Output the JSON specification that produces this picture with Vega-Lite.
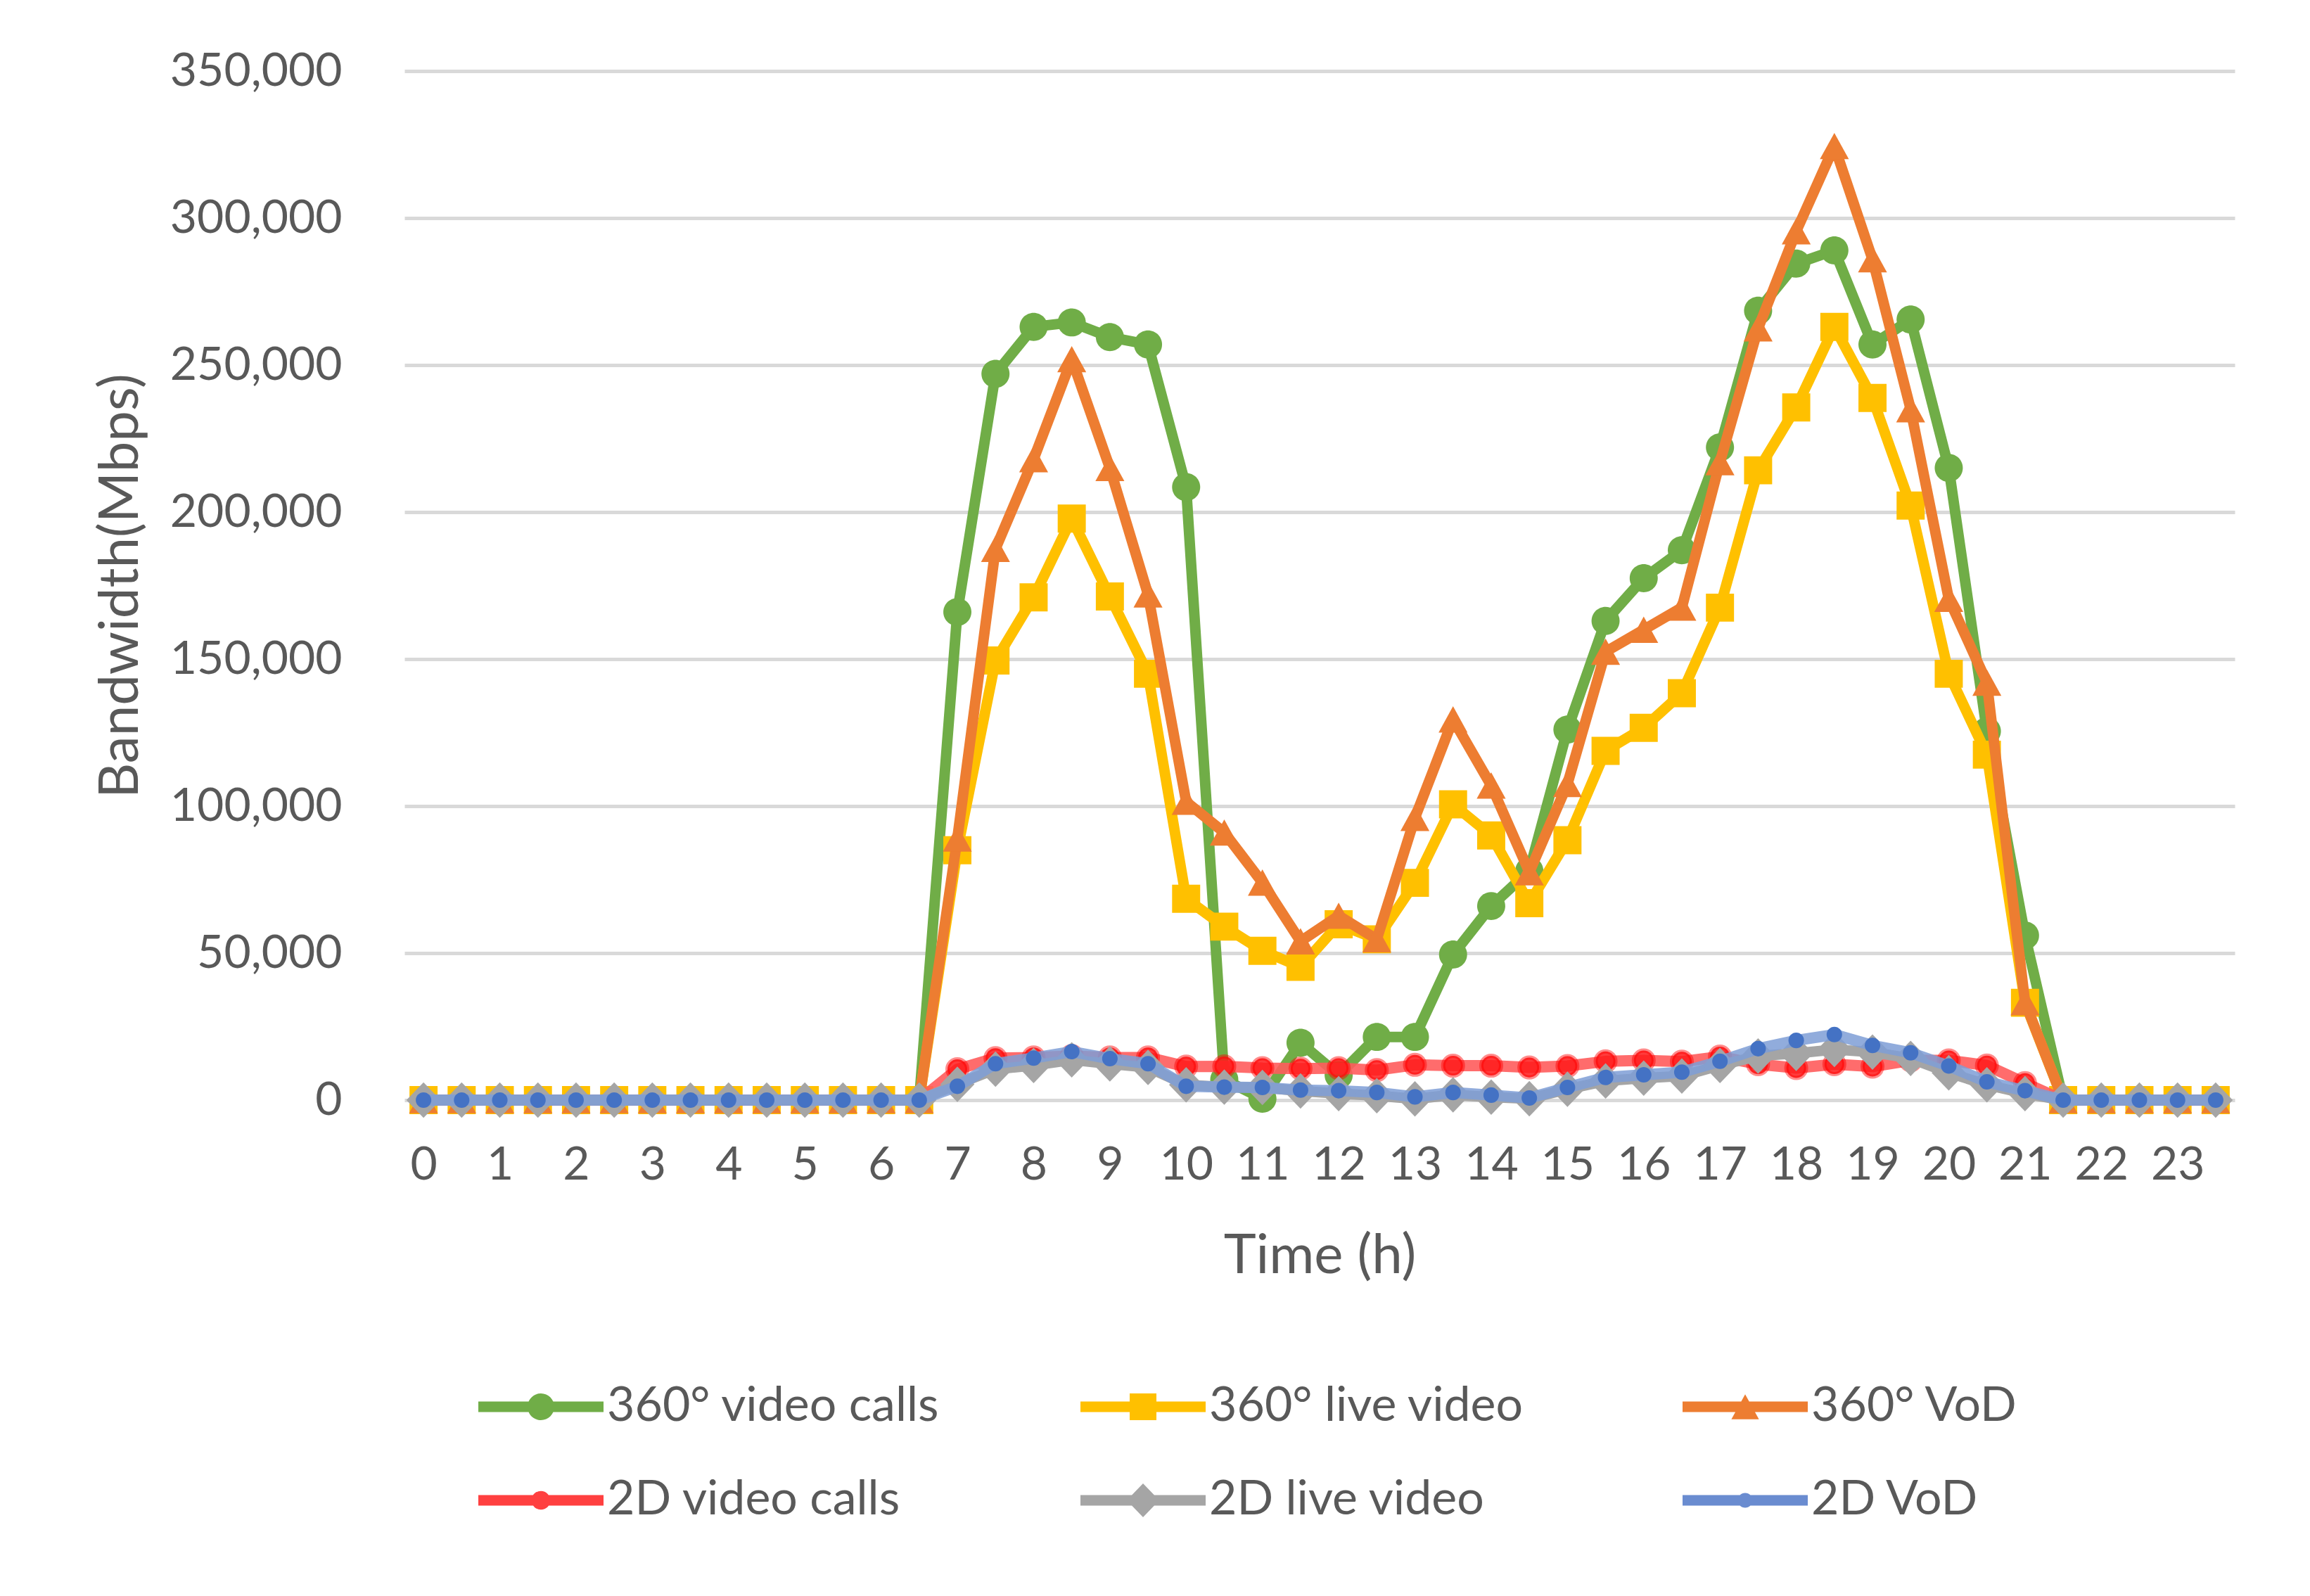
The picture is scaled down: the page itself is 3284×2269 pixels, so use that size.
{
  "$schema": "https://vega.github.io/schema/vega-lite/v6.json",
  "autosize": {"type": "none"},
  "padding": {"left": 575, "top": 101, "right": 107, "bottom": 705},
  "width": 2602,
  "height": 1463,
  "background": "white",
  "config": {
    "font": "Lato",
    "view": {"stroke": null},
    "axis": {"labelColor": "#595959", "titleColor": "#595959", "titleFontWeight": "normal", "labelFont": "Lato", "titleFont": "Lato", "labelLimit": 1000},
    "legend": {"labelColor": "#595959", "labelFont": "Lato", "labelLimit": 1000}
  },
  "data": {"values": [
    {"h":0,"s":"360° video calls","v":0},{"h":0.5,"s":"360° video calls","v":0},{"h":1,"s":"360° video calls","v":0},{"h":1.5,"s":"360° video calls","v":0},{"h":2,"s":"360° video calls","v":0},{"h":2.5,"s":"360° video calls","v":0},{"h":3,"s":"360° video calls","v":0},{"h":3.5,"s":"360° video calls","v":0},{"h":4,"s":"360° video calls","v":0},{"h":4.5,"s":"360° video calls","v":0},{"h":5,"s":"360° video calls","v":0},{"h":5.5,"s":"360° video calls","v":0},{"h":6,"s":"360° video calls","v":0},{"h":6.5,"s":"360° video calls","v":0},
    {"h":7,"s":"360° video calls","v":166000},{"h":7.5,"s":"360° video calls","v":247000},{"h":8,"s":"360° video calls","v":263000},{"h":8.5,"s":"360° video calls","v":264500},{"h":9,"s":"360° video calls","v":259500},{"h":9.5,"s":"360° video calls","v":257000},{"h":10,"s":"360° video calls","v":208500},{"h":10.5,"s":"360° video calls","v":7000},{"h":11,"s":"360° video calls","v":500},{"h":11.5,"s":"360° video calls","v":19500},{"h":12,"s":"360° video calls","v":8500},{"h":12.5,"s":"360° video calls","v":21500},{"h":13,"s":"360° video calls","v":21500},{"h":13.5,"s":"360° video calls","v":49500},{"h":14,"s":"360° video calls","v":66000},{"h":14.5,"s":"360° video calls","v":78000},{"h":15,"s":"360° video calls","v":126000},{"h":15.5,"s":"360° video calls","v":163000},{"h":16,"s":"360° video calls","v":177500},{"h":16.5,"s":"360° video calls","v":187000},{"h":17,"s":"360° video calls","v":222000},{"h":17.5,"s":"360° video calls","v":268500},{"h":18,"s":"360° video calls","v":284500},{"h":18.5,"s":"360° video calls","v":289000},{"h":19,"s":"360° video calls","v":257000},{"h":19.5,"s":"360° video calls","v":265500},{"h":20,"s":"360° video calls","v":215000},{"h":20.5,"s":"360° video calls","v":125500},{"h":21,"s":"360° video calls","v":56000},
    {"h":21.5,"s":"360° video calls","v":0},{"h":22,"s":"360° video calls","v":0},{"h":22.5,"s":"360° video calls","v":0},{"h":23,"s":"360° video calls","v":0},{"h":23.5,"s":"360° video calls","v":0},

    {"h":0,"s":"360° live video","v":0},{"h":0.5,"s":"360° live video","v":0},{"h":1,"s":"360° live video","v":0},{"h":1.5,"s":"360° live video","v":0},{"h":2,"s":"360° live video","v":0},{"h":2.5,"s":"360° live video","v":0},{"h":3,"s":"360° live video","v":0},{"h":3.5,"s":"360° live video","v":0},{"h":4,"s":"360° live video","v":0},{"h":4.5,"s":"360° live video","v":0},{"h":5,"s":"360° live video","v":0},{"h":5.5,"s":"360° live video","v":0},{"h":6,"s":"360° live video","v":0},{"h":6.5,"s":"360° live video","v":0},
    {"h":7,"s":"360° live video","v":85000},{"h":7.5,"s":"360° live video","v":149500},{"h":8,"s":"360° live video","v":171000},{"h":8.5,"s":"360° live video","v":197800},{"h":9,"s":"360° live video","v":171300},{"h":9.5,"s":"360° live video","v":145000},{"h":10,"s":"360° live video","v":68500},{"h":10.5,"s":"360° live video","v":59000},{"h":11,"s":"360° live video","v":50800},{"h":11.5,"s":"360° live video","v":45300},{"h":12,"s":"360° live video","v":59800},{"h":12.5,"s":"360° live video","v":54700},{"h":13,"s":"360° live video","v":73900},{"h":13.5,"s":"360° live video","v":100600},{"h":14,"s":"360° live video","v":90000},{"h":14.5,"s":"360° live video","v":67000},{"h":15,"s":"360° live video","v":88400},{"h":15.5,"s":"360° live video","v":118800},{"h":16,"s":"360° live video","v":126600},{"h":16.5,"s":"360° live video","v":138400},{"h":17,"s":"360° live video","v":167500},{"h":17.5,"s":"360° live video","v":214200},{"h":18,"s":"360° live video","v":235600},{"h":18.5,"s":"360° live video","v":263000},{"h":19,"s":"360° live video","v":238800},{"h":19.5,"s":"360° live video","v":202200},{"h":20,"s":"360° live video","v":145000},{"h":20.5,"s":"360° live video","v":117500},{"h":21,"s":"360° live video","v":33100},
    {"h":21.5,"s":"360° live video","v":0},{"h":22,"s":"360° live video","v":0},{"h":22.5,"s":"360° live video","v":0},{"h":23,"s":"360° live video","v":0},{"h":23.5,"s":"360° live video","v":0},

    {"h":0,"s":"360° VoD","v":0},{"h":0.5,"s":"360° VoD","v":0},{"h":1,"s":"360° VoD","v":0},{"h":1.5,"s":"360° VoD","v":0},{"h":2,"s":"360° VoD","v":0},{"h":2.5,"s":"360° VoD","v":0},{"h":3,"s":"360° VoD","v":0},{"h":3.5,"s":"360° VoD","v":0},{"h":4,"s":"360° VoD","v":0},{"h":4.5,"s":"360° VoD","v":0},{"h":5,"s":"360° VoD","v":0},{"h":5.5,"s":"360° VoD","v":0},{"h":6,"s":"360° VoD","v":0},{"h":6.5,"s":"360° VoD","v":0},
    {"h":7,"s":"360° VoD","v":89000},{"h":7.5,"s":"360° VoD","v":187500},{"h":8,"s":"360° VoD","v":218000},{"h":8.5,"s":"360° VoD","v":252000},{"h":9,"s":"360° VoD","v":215000},{"h":9.5,"s":"360° VoD","v":172000},{"h":10,"s":"360° VoD","v":101500},{"h":10.5,"s":"360° VoD","v":91000},{"h":11,"s":"360° VoD","v":74000},{"h":11.5,"s":"360° VoD","v":54000},{"h":12,"s":"360° VoD","v":62700},{"h":12.5,"s":"360° VoD","v":54700},{"h":13,"s":"360° VoD","v":96000},{"h":13.5,"s":"360° VoD","v":129500},{"h":14,"s":"360° VoD","v":107000},{"h":14.5,"s":"360° VoD","v":77500},{"h":15,"s":"360° VoD","v":107500},{"h":15.5,"s":"360° VoD","v":152500},{"h":16,"s":"360° VoD","v":160000},{"h":16.5,"s":"360° VoD","v":167500},{"h":17,"s":"360° VoD","v":217000},{"h":17.5,"s":"360° VoD","v":262500},{"h":18,"s":"360° VoD","v":295500},{"h":18.5,"s":"360° VoD","v":324500},{"h":19,"s":"360° VoD","v":286000},{"h":19.5,"s":"360° VoD","v":235000},{"h":20,"s":"360° VoD","v":170500},{"h":20.5,"s":"360° VoD","v":142000},{"h":21,"s":"360° VoD","v":33300},
    {"h":21.5,"s":"360° VoD","v":0},{"h":22,"s":"360° VoD","v":0},{"h":22.5,"s":"360° VoD","v":0},{"h":23,"s":"360° VoD","v":0},{"h":23.5,"s":"360° VoD","v":0},

    {"h":0,"s":"2D video calls","v":0},{"h":0.5,"s":"2D video calls","v":0},{"h":1,"s":"2D video calls","v":0},{"h":1.5,"s":"2D video calls","v":0},{"h":2,"s":"2D video calls","v":0},{"h":2.5,"s":"2D video calls","v":0},{"h":3,"s":"2D video calls","v":0},{"h":3.5,"s":"2D video calls","v":0},{"h":4,"s":"2D video calls","v":0},{"h":4.5,"s":"2D video calls","v":0},{"h":5,"s":"2D video calls","v":0},{"h":5.5,"s":"2D video calls","v":0},{"h":6,"s":"2D video calls","v":0},{"h":6.5,"s":"2D video calls","v":0},
    {"h":7,"s":"2D video calls","v":10500},{"h":7.5,"s":"2D video calls","v":14300},{"h":8,"s":"2D video calls","v":14500},{"h":8.5,"s":"2D video calls","v":15000},{"h":9,"s":"2D video calls","v":14500},{"h":9.5,"s":"2D video calls","v":14500},{"h":10,"s":"2D video calls","v":11400},{"h":10.5,"s":"2D video calls","v":11500},{"h":11,"s":"2D video calls","v":10900},{"h":11.5,"s":"2D video calls","v":10700},{"h":12,"s":"2D video calls","v":10900},{"h":12.5,"s":"2D video calls","v":10200},{"h":13,"s":"2D video calls","v":12000},{"h":13.5,"s":"2D video calls","v":11700},{"h":14,"s":"2D video calls","v":11700},{"h":14.5,"s":"2D video calls","v":11100},{"h":15,"s":"2D video calls","v":11600},{"h":15.5,"s":"2D video calls","v":13200},{"h":16,"s":"2D video calls","v":13500},{"h":16.5,"s":"2D video calls","v":13100},{"h":17,"s":"2D video calls","v":14800},{"h":17.5,"s":"2D video calls","v":12200},{"h":18,"s":"2D video calls","v":10900},{"h":18.5,"s":"2D video calls","v":12200},{"h":19,"s":"2D video calls","v":11400},{"h":19.5,"s":"2D video calls","v":13500},{"h":20,"s":"2D video calls","v":13500},{"h":20.5,"s":"2D video calls","v":11800},{"h":21,"s":"2D video calls","v":5800},
    {"h":21.5,"s":"2D video calls","v":0},{"h":22,"s":"2D video calls","v":0},{"h":22.5,"s":"2D video calls","v":0},{"h":23,"s":"2D video calls","v":0},{"h":23.5,"s":"2D video calls","v":0},

    {"h":0,"s":"2D live video","v":0},{"h":0.5,"s":"2D live video","v":0},{"h":1,"s":"2D live video","v":0},{"h":1.5,"s":"2D live video","v":0},{"h":2,"s":"2D live video","v":0},{"h":2.5,"s":"2D live video","v":0},{"h":3,"s":"2D live video","v":0},{"h":3.5,"s":"2D live video","v":0},{"h":4,"s":"2D live video","v":0},{"h":4.5,"s":"2D live video","v":0},{"h":5,"s":"2D live video","v":0},{"h":5.5,"s":"2D live video","v":0},{"h":6,"s":"2D live video","v":0},{"h":6.5,"s":"2D live video","v":0},
    {"h":7,"s":"2D live video","v":5400},{"h":7.5,"s":"2D live video","v":10500},{"h":8,"s":"2D live video","v":11800},{"h":8.5,"s":"2D live video","v":13700},{"h":9,"s":"2D live video","v":12300},{"h":9.5,"s":"2D live video","v":11100},{"h":10,"s":"2D live video","v":5200},{"h":10.5,"s":"2D live video","v":4400},{"h":11,"s":"2D live video","v":4300},{"h":11.5,"s":"2D live video","v":3100},{"h":12,"s":"2D live video","v":2200},{"h":12.5,"s":"2D live video","v":1500},{"h":13,"s":"2D live video","v":400},{"h":13.5,"s":"2D live video","v":1800},{"h":14,"s":"2D live video","v":1000},{"h":14.5,"s":"2D live video","v":500},{"h":15,"s":"2D live video","v":3700},{"h":15.5,"s":"2D live video","v":6500},{"h":16,"s":"2D live video","v":7500},{"h":16.5,"s":"2D live video","v":8200},{"h":17,"s":"2D live video","v":11800},{"h":17.5,"s":"2D live video","v":15000},{"h":18,"s":"2D live video","v":15900},{"h":18.5,"s":"2D live video","v":17200},{"h":19,"s":"2D live video","v":16300},{"h":19.5,"s":"2D live video","v":14200},{"h":20,"s":"2D live video","v":9300},{"h":20.5,"s":"2D live video","v":5200},{"h":21,"s":"2D live video","v":2200},
    {"h":21.5,"s":"2D live video","v":0},{"h":22,"s":"2D live video","v":0},{"h":22.5,"s":"2D live video","v":0},{"h":23,"s":"2D live video","v":0},{"h":23.5,"s":"2D live video","v":0},

    {"h":0,"s":"2D VoD","v":0},{"h":0.5,"s":"2D VoD","v":0},{"h":1,"s":"2D VoD","v":0},{"h":1.5,"s":"2D VoD","v":0},{"h":2,"s":"2D VoD","v":0},{"h":2.5,"s":"2D VoD","v":0},{"h":3,"s":"2D VoD","v":0},{"h":3.5,"s":"2D VoD","v":0},{"h":4,"s":"2D VoD","v":0},{"h":4.5,"s":"2D VoD","v":0},{"h":5,"s":"2D VoD","v":0},{"h":5.5,"s":"2D VoD","v":0},{"h":6,"s":"2D VoD","v":0},{"h":6.5,"s":"2D VoD","v":0},
    {"h":7,"s":"2D VoD","v":4700},{"h":7.5,"s":"2D VoD","v":12400},{"h":8,"s":"2D VoD","v":14300},{"h":8.5,"s":"2D VoD","v":16500},{"h":9,"s":"2D VoD","v":14100},{"h":9.5,"s":"2D VoD","v":12400},{"h":10,"s":"2D VoD","v":4700},{"h":10.5,"s":"2D VoD","v":4400},{"h":11,"s":"2D VoD","v":4300},{"h":11.5,"s":"2D VoD","v":3400},{"h":12,"s":"2D VoD","v":3200},{"h":12.5,"s":"2D VoD","v":2600},{"h":13,"s":"2D VoD","v":1100},{"h":13.5,"s":"2D VoD","v":2600},{"h":14,"s":"2D VoD","v":1700},{"h":14.5,"s":"2D VoD","v":700},{"h":15,"s":"2D VoD","v":4300},{"h":15.5,"s":"2D VoD","v":7700},{"h":16,"s":"2D VoD","v":8600},{"h":16.5,"s":"2D VoD","v":9500},{"h":17,"s":"2D VoD","v":13200},{"h":17.5,"s":"2D VoD","v":17500},{"h":18,"s":"2D VoD","v":20300},{"h":18.5,"s":"2D VoD","v":22300},{"h":19,"s":"2D VoD","v":18600},{"h":19.5,"s":"2D VoD","v":16100},{"h":20,"s":"2D VoD","v":11600},{"h":20.5,"s":"2D VoD","v":6200},{"h":21,"s":"2D VoD","v":3200},
    {"h":21.5,"s":"2D VoD","v":0},{"h":22,"s":"2D VoD","v":0},{"h":22.5,"s":"2D VoD","v":0},{"h":23,"s":"2D VoD","v":0},{"h":23.5,"s":"2D VoD","v":0}
  ]},
  "encoding": {
    "x": {"field": "h", "type": "quantitative",
      "scale": {"domain": [-0.25, 23.75], "nice": false, "zero": false},
      "axis": {"values": [0,1,2,3,4,5,6,7,8,9,10,11,12,13,14,15,16,17,18,19,20,21,22,23], "format": "d", "title": "Time (h)", "grid": false, "domain": false, "ticks": false, "labelFontSize": 66, "labelPadding": 60, "labelFlush": false, "titleFontSize": 78, "titlePadding": 58}},
    "y": {"field": "v", "type": "quantitative",
      "scale": {"domain": [0, 350000], "nice": false},
      "axis": {"values": [0,50000,100000,150000,200000,250000,300000,350000], "format": ",.0f", "title": "Bandwidth(Mbps)", "domain": false, "ticks": false, "gridColor": "#D9D9D9", "gridWidth": 5, "labelFontSize": 66, "labelPadding": 89, "titleFontSize": 78, "titleX": -380, "titleBaseline": "alphabetic"}}
  },
  "layer": [
    {"transform": [{"filter": "datum.s === '360° video calls'"}],
     "mark": {"type": "line", "strokeWidth": 15, "strokeJoin": "round"},
     "encoding": {"color": {"field": "s", "type": "nominal", "legend": null,
       "scale": {"domain": ["360° video calls","360° live video","360° VoD","2D video calls","2D live video","2D VoD"], "range": ["#70AD47","#FFC000","#ED7D31","#FF5C5C","#A5A5A5","#7E9DD6"]}}}},
    {"transform": [{"filter": "datum.s === '360° video calls'"}],
     "mark": {"type": "point", "filled": true, "size": 35000, "opacity": 1, "fill": "#70AD47",
       "shape": "M0.2135,0C0.2135,0.1179,0.1179,0.2135,0,0.2135C-0.1179,0.2135,-0.2135,0.1179,-0.2135,0C-0.2135,-0.1179,-0.1179,-0.2135,0,-0.2135C0.1179,-0.2135,0.2135,-0.1179,0.2135,0Z"}},

    {"transform": [{"filter": "datum.s === '360° live video'"}],
     "mark": {"type": "line", "strokeWidth": 15, "strokeJoin": "round"},
     "encoding": {"color": {"field": "s", "type": "nominal", "legend": null}}},
    {"transform": [{"filter": "datum.s === '360° live video'"}],
     "mark": {"type": "point", "filled": true, "size": 35000, "opacity": 1, "fill": "#FFC000",
       "shape": "M-0.2135,-0.2135L0.2135,-0.2135L0.2135,0.2135L-0.2135,0.2135Z"}},

    {"transform": [{"filter": "datum.s === '360° VoD'"}],
     "mark": {"type": "line", "strokeWidth": 15, "strokeJoin": "round"},
     "encoding": {"color": {"field": "s", "type": "nominal", "legend": null}}},
    {"transform": [{"filter": "datum.s === '360° VoD'"}],
     "mark": {"type": "point", "filled": true, "size": 35000, "opacity": 1, "fill": "#ED7D31",
       "shape": "M0,-0.2L0.22,0.2L-0.22,0.2Z"}},

    {"transform": [{"filter": "datum.s === '2D video calls'"}],
     "mark": {"type": "line", "strokeWidth": 16, "strokeJoin": "round", "strokeOpacity": 0.9},
     "encoding": {"color": {"field": "s", "type": "nominal", "legend": null}}},
    {"transform": [{"filter": "datum.s === '2D video calls'"}],
     "mark": {"type": "point", "filled": true, "size": 35000, "fill": "#FF1A1A", "fillOpacity": 0.85, "stroke": "#FF0000", "strokeOpacity": 0.45, "strokeWidth": 6, "opacity": 1,
       "shape": "M0.15,0C0.15,0.0828,0.0828,0.15,0,0.15C-0.0828,0.15,-0.15,0.0828,-0.15,0C-0.15,-0.0828,-0.0828,-0.15,0,-0.15C0.0828,-0.15,0.15,-0.0828,0.15,0Z"}},

    {"transform": [{"filter": "datum.s === '2D live video'"}],
     "mark": {"type": "line", "strokeWidth": 15, "strokeJoin": "round"},
     "encoding": {"color": {"field": "s", "type": "nominal", "legend": null}}},
    {"transform": [{"filter": "datum.s === '2D live video'"}],
     "mark": {"type": "point", "filled": true, "size": 35000, "opacity": 1, "fill": "#A5A5A5",
       "shape": "M0,-0.27L0.26,0L0,0.27L-0.26,0Z"}},

    {"transform": [{"filter": "datum.s === '2D VoD'"}],
     "mark": {"type": "line", "strokeWidth": 16, "strokeJoin": "round", "strokeOpacity": 0.85},
     "encoding": {"color": {"field": "s", "type": "nominal", "legend": null}}},
    {"transform": [{"filter": "datum.s === '2D VoD'"}],
     "mark": {"type": "point", "filled": true, "size": 35000, "opacity": 1, "fill": "#4472C4",
       "shape": "M0.118,0C0.118,0.0652,0.0652,0.118,0,0.118C-0.0652,0.118,-0.118,0.0652,-0.118,0C-0.118,-0.0652,-0.0652,-0.118,0,-0.118C0.0652,-0.118,0.118,-0.0652,0.118,0Z"}},

    {"transform": [{"filter": "datum.v < 0"}],
     "mark": {"type": "point", "filled": true},
     "encoding": {
       "shape": {"field": "s", "type": "nominal",
         "scale": {"domain": ["360° video calls","360° live video","360° VoD","2D video calls","2D live video","2D VoD","x"],
           "range": [
             "M-1,-0.0843L1,-0.0843L1,0.0843L-1,0.0843ZM0.2135,0C0.2135,0.1179,0.1179,0.2135,0,0.2135C-0.1179,0.2135,-0.2135,0.1179,-0.2135,0C-0.2135,-0.1179,-0.1179,-0.2135,0,-0.2135C0.1179,-0.2135,0.2135,-0.1179,0.2135,0Z",
             "M-1,-0.0843L1,-0.0843L1,0.0843L-1,0.0843ZM-0.2135,-0.2135L0.2135,-0.2135L0.2135,0.2135L-0.2135,0.2135Z",
             "M-1,-0.0843L1,-0.0843L1,0.0843L-1,0.0843ZM0,-0.2L0.22,0.2L-0.22,0.2Z",
             "M-1,-0.0843L1,-0.0843L1,0.0843L-1,0.0843ZM0.15,0C0.15,0.0828,0.0828,0.15,0,0.15C-0.0828,0.15,-0.15,0.0828,-0.15,0C-0.15,-0.0828,-0.0828,-0.15,0,-0.15C0.0828,-0.15,0.15,-0.0828,0.15,0Z",
             "M-1,-0.0843L1,-0.0843L1,0.0843L-1,0.0843ZM0,-0.27L0.26,0L0,0.27L-0.26,0Z",
             "M-1,-0.0843L1,-0.0843L1,0.0843L-1,0.0843ZM0.118,0C0.118,0.0652,0.0652,0.118,0,0.118C-0.0652,0.118,-0.118,0.0652,-0.118,0C-0.118,-0.0652,-0.0652,-0.118,0,-0.118C0.0652,-0.118,0.118,-0.0652,0.118,0Z",
             "circle"]},
         "legend": {"values": ["360° video calls","360° live video","360° VoD","2D video calls","2D live video","2D VoD"], "orient": "none", "legendX": 105, "legendY": 1810, "direction": "horizontal", "columns": 3, "title": null, "symbolSize": 31684, "symbolStrokeWidth": 0, "symbolOpacity": 1, "labelFontSize": 68, "labelOffset": 5, "labelLimit": 1000, "columnPadding": 199, "rowPadding": 10, "gridAlign": "all", "padding": 0}},
       "fill": {"field": "s", "type": "nominal",
         "scale": {"domain": ["360° video calls","360° live video","360° VoD","2D video calls","2D live video","2D VoD","x"], "range": ["#70AD47","#FFC000","#ED7D31","#FF4040","#A5A5A5","#6A8CD0","#000000"]},
         "legend": {"values": ["360° video calls","360° live video","360° VoD","2D video calls","2D live video","2D VoD"], "orient": "none", "legendX": 105, "legendY": 1810, "direction": "horizontal", "columns": 3, "title": null, "symbolSize": 31684, "symbolStrokeWidth": 0, "symbolOpacity": 1, "labelFontSize": 68, "labelOffset": 5, "labelLimit": 1000, "columnPadding": 199, "rowPadding": 10, "gridAlign": "all", "padding": 0}}}}
  ]
}
